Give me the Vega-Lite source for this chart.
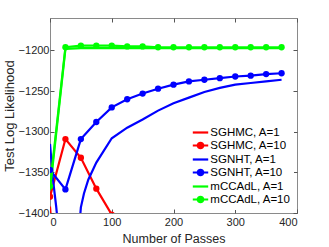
{
  "$schema": "https://vega.github.io/schema/vega-lite/v6.json",
  "width": 247,
  "height": 195,
  "autosize": "none",
  "padding": {"left": 50, "top": 18, "right": 32, "bottom": 34},
  "background": "white",
  "config": {
    "font": "Liberation Sans",
    "view": {"stroke": "#8a8a8a", "strokeWidth": 1},
    "axis": {
      "domain": false,
      "grid": false,
      "tickColor": "#555",
      "tickSize": -4,
      "labelFont": "Liberation Sans",
      "labelFontSize": 11,
      "labelColor": "#262626",
      "titleFont": "Liberation Sans",
      "titleFontSize": 12.5,
      "titleFontWeight": "normal",
      "titleColor": "#262626"
    },
    "legend": {
      "orient": "bottom-right",
      "offset": 3,
      "padding": 3,
      "fillColor": "white",
      "labelFont": "Liberation Sans",
      "labelFontSize": 11.5,
      "labelColor": "#000",
      "labelOffset": 3.3,
      "rowPadding": 0,
      "symbolSize": 100,
      "symbolStrokeWidth": 2.2,
      "title": null
    }
  },
  "data": {
    "values": [
      {"series": "SGHMC, A=1", "pass": 0, "ll": -1392},
      {"series": "SGHMC, A=1", "pass": 5, "ll": -1440},
      {"series": "SGHMC, A=10", "pass": 0, "ll": -1380},
      {"series": "SGHMC, A=10", "pass": 25, "ll": -1309},
      {"series": "SGHMC, A=10", "pass": 50, "ll": -1332},
      {"series": "SGHMC, A=10", "pass": 75, "ll": -1370},
      {"series": "SGHMC, A=10", "pass": 100, "ll": -1402},
      {"series": "SGNHT, A=1", "pass": 0, "ll": -1315},
      {"series": "SGNHT, A=1", "pass": 5, "ll": -1360},
      {"series": "SGNHT, A=1", "pass": 10, "ll": -1392},
      {"series": "SGNHT, A=1", "pass": 15, "ll": -1430},
      {"series": "SGNHT, A=1", "pass": 25, "ll": -1480},
      {"series": "SGNHT, A=1", "pass": 45, "ll": -1440},
      {"series": "SGNHT, A=1", "pass": 50, "ll": -1393},
      {"series": "SGNHT, A=1", "pass": 55, "ll": -1376},
      {"series": "SGNHT, A=1", "pass": 62, "ll": -1359},
      {"series": "SGNHT, A=1", "pass": 75, "ll": -1338},
      {"series": "SGNHT, A=1", "pass": 100, "ll": -1308},
      {"series": "SGNHT, A=1", "pass": 125, "ll": -1295},
      {"series": "SGNHT, A=1", "pass": 150, "ll": -1285},
      {"series": "SGNHT, A=1", "pass": 175, "ll": -1274},
      {"series": "SGNHT, A=1", "pass": 200, "ll": -1265},
      {"series": "SGNHT, A=1", "pass": 225, "ll": -1258},
      {"series": "SGNHT, A=1", "pass": 250, "ll": -1251},
      {"series": "SGNHT, A=1", "pass": 275, "ll": -1246},
      {"series": "SGNHT, A=1", "pass": 300, "ll": -1242},
      {"series": "SGNHT, A=1", "pass": 325, "ll": -1240},
      {"series": "SGNHT, A=1", "pass": 350, "ll": -1238},
      {"series": "SGNHT, A=1", "pass": 375, "ll": -1236},
      {"series": "SGNHT, A=10", "pass": 0, "ll": -1347},
      {"series": "SGNHT, A=10", "pass": 25, "ll": -1371},
      {"series": "SGNHT, A=10", "pass": 50, "ll": -1309},
      {"series": "SGNHT, A=10", "pass": 75, "ll": -1288},
      {"series": "SGNHT, A=10", "pass": 100, "ll": -1270},
      {"series": "SGNHT, A=10", "pass": 125, "ll": -1260},
      {"series": "SGNHT, A=10", "pass": 150, "ll": -1253},
      {"series": "SGNHT, A=10", "pass": 175, "ll": -1247},
      {"series": "SGNHT, A=10", "pass": 200, "ll": -1242},
      {"series": "SGNHT, A=10", "pass": 225, "ll": -1238},
      {"series": "SGNHT, A=10", "pass": 250, "ll": -1236},
      {"series": "SGNHT, A=10", "pass": 275, "ll": -1234},
      {"series": "SGNHT, A=10", "pass": 300, "ll": -1232},
      {"series": "SGNHT, A=10", "pass": 325, "ll": -1231},
      {"series": "SGNHT, A=10", "pass": 350, "ll": -1229},
      {"series": "SGNHT, A=10", "pass": 375, "ll": -1228},
      {"series": "mCCAdL, A=1", "pass": 0, "ll": -1372},
      {"series": "mCCAdL, A=1", "pass": 25, "ll": -1198},
      {"series": "mCCAdL, A=1", "pass": 50, "ll": -1197},
      {"series": "mCCAdL, A=1", "pass": 100, "ll": -1197},
      {"series": "mCCAdL, A=1", "pass": 150, "ll": -1197},
      {"series": "mCCAdL, A=1", "pass": 200, "ll": -1197},
      {"series": "mCCAdL, A=1", "pass": 250, "ll": -1197},
      {"series": "mCCAdL, A=1", "pass": 300, "ll": -1197},
      {"series": "mCCAdL, A=1", "pass": 375, "ll": -1197},
      {"series": "mCCAdL, A=10", "pass": 0, "ll": -1367},
      {"series": "mCCAdL, A=10", "pass": 25, "ll": -1196},
      {"series": "mCCAdL, A=10", "pass": 50, "ll": -1194},
      {"series": "mCCAdL, A=10", "pass": 75, "ll": -1194},
      {"series": "mCCAdL, A=10", "pass": 100, "ll": -1194},
      {"series": "mCCAdL, A=10", "pass": 125, "ll": -1195},
      {"series": "mCCAdL, A=10", "pass": 150, "ll": -1195},
      {"series": "mCCAdL, A=10", "pass": 175, "ll": -1196},
      {"series": "mCCAdL, A=10", "pass": 200, "ll": -1196},
      {"series": "mCCAdL, A=10", "pass": 225, "ll": -1196},
      {"series": "mCCAdL, A=10", "pass": 250, "ll": -1196},
      {"series": "mCCAdL, A=10", "pass": 275, "ll": -1196},
      {"series": "mCCAdL, A=10", "pass": 300, "ll": -1196},
      {"series": "mCCAdL, A=10", "pass": 325, "ll": -1196},
      {"series": "mCCAdL, A=10", "pass": 350, "ll": -1196},
      {"series": "mCCAdL, A=10", "pass": 375, "ll": -1196}
    ]
  },
  "resolve": {"axis": {"x": "independent", "y": "independent"}},
  "layer": [
    {
      "mark": {"type": "line", "strokeWidth": 2.2, "clip": true},
      "encoding": {
        "x": {
          "field": "pass", "type": "quantitative",
          "scale": {"domain": [0, 400], "nice": false},
          "axis": {"values": [0, 100, 200, 300, 400], "format": "d", "title": "Number of Passes", "labelPadding": 7, "titlePadding": 5}
        },
        "y": {
          "field": "ll", "type": "quantitative",
          "scale": {"domain": [-1400, -1160], "nice": false, "zero": false},
          "axis": {"values": [-1400, -1350, -1300, -1250, -1200], "format": "d", "title": "Test Log Likelihood", "titleFontSize": 13, "labelPadding": 5, "titlePadding": 2}
        },
        "color": {
          "field": "series", "type": "nominal",
          "scale": {
            "domain": ["SGHMC, A=1", "SGHMC, A=10", "SGNHT, A=1", "SGNHT, A=10", "mCCAdL, A=1", "mCCAdL, A=10"],
            "range": ["#ff0000", "#ff0000", "#0000ff", "#0000ff", "#00ff00", "#00ff00"]
          },
          "legend": {
            "encode": {
              "symbols": {
                "update": {
                  "shape": {"signal": "indexof(datum.value, 'A=10') >= 0 ? 'M-1.54,0H1.54M-0.55,0A0.55,0.55,0,1,1,0.55,0A0.55,0.55,0,1,1,-0.55,0Z' : 'M-1.54,0H1.54'"},
                  "stroke": {"scale": "color", "field": "value"},
                  "fill": {"scale": "color", "field": "value"},
                  "strokeWidth": {"value": 2.2},
                  "opacity": {"value": 1}
                }
              }
            }
          }
        }
      }
    },
    {
      "transform": [{"filter": "indexof(datum.series, 'A=10') >= 0"}],
      "mark": {"type": "point", "filled": true, "size": 40, "opacity": 1, "clip": true},
      "encoding": {
        "x": {"field": "pass", "type": "quantitative", "axis": {"orient": "top", "values": [0, 100, 200, 300, 400], "labels": false, "title": null}},
        "y": {"field": "ll", "type": "quantitative", "axis": {"orient": "right", "values": [-1400, -1350, -1300, -1250, -1200], "labels": false, "title": null}},
        "color": {"field": "series", "type": "nominal"}
      }
    }
  ]
}
